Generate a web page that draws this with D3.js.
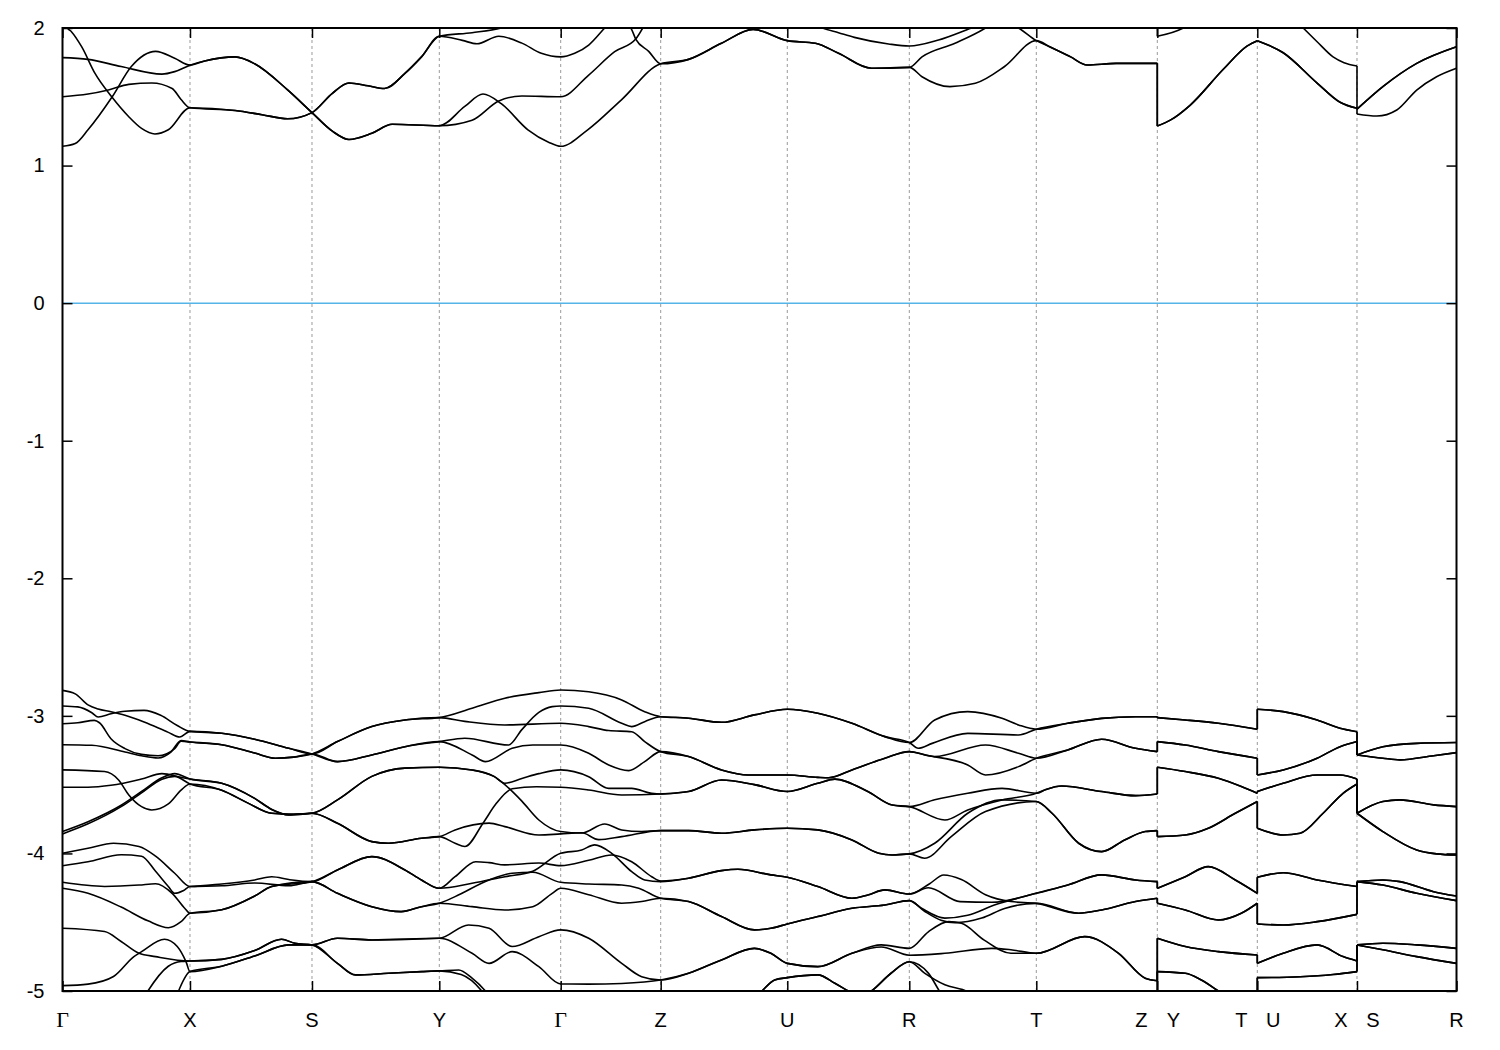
<!DOCTYPE html>
<html><head><meta charset="utf-8">
<script src="https://cdn.jsdelivr.net/npm/d3@7"></script>
<style>body{margin:0;background:#fff}</style>
</head><body>
<svg id="chart" width="1500" height="1050"></svg>
<script>
// k-path positions of high-symmetry points (path length, arbitrary units)
const kTicks = [0, 0.9146, 1.7898, 2.7030, 3.5739, 4.2912, 5.1994, 6.0746, 6.9857, 7.8537, 8.5710, 9.2862, 10.0];
const kLabels = ["Γ","X","S","Y","Γ","Z","U","R","T","Z|Y","T|U","X|S","R"];
const yTickValues = [2, 1, 0, -1, -2, -3, -4, -5];
const energyRange = [-5, 2];
const fermiLevel = 0;

// Bands: [s, E] with s = segment index + fraction along segment (E in eV)
const condA = [[0,1.14],[0.1,1.16],[0.2,1.26],[0.39,1.5],[0.54,1.72],[0.73,1.83],[0.88,1.78],[1,1.73],
[1.12,1.76],[1.37,1.79],[1.53,1.74],[1.8,1.55],[2,1.385],
[2.16,1.25],[2.29,1.19],[2.47,1.235],[2.63,1.3],[3,1.29],
[3.21,1.43],[3.36,1.52],[3.51,1.45],[3.73,1.26],[3.9,1.17],[4,1.14],
[4.27,1.26],[4.61,1.48],[5,1.74],
[5.22,1.772],[5.48,1.889],[5.73,1.99],[6,1.908],
[6.23,1.889],[6.42,1.816],[6.69,1.707],[7,1.714],
[7.1,1.646],[7.32,1.574],[7.52,1.598],[7.75,1.72],[8,1.908],
[8.11,1.864],[8.28,1.792],[8.42,1.731],[8.66,1.743],[9,1.743],
[9,1.288],[9.13,1.33],[9.33,1.44],[9.66,1.7],[9.9,1.87],[10,1.908],
[10,1.908],[10.26,1.82],[10.6,1.6],[10.83,1.46],[11,1.416],
[11,1.41],[11.26,1.574],[11.6,1.743],[12,1.864]];
const condB = [[0,1.5],[0.2,1.52],[0.36,1.55],[0.52,1.59],[0.7,1.6],[0.86,1.56],[0.93,1.48],[1,1.42],
[1.37,1.4],[1.59,1.37],[1.8,1.34],[2,1.385],
[2.16,1.525],[2.29,1.6],[2.44,1.58],[2.57,1.56],[2.73,1.67],[2.86,1.79],[3,1.94],
[3.19,1.91],[3.31,1.885],[3.49,1.94],[3.68,1.89],[3.84,1.816],[4,1.79],
[4.14,1.816],[4.28,1.876],[4.44,2.0],[4.7,2.2],[5,2.3],
[5.5,2.3],[6,2.15],
[6.29,2.0],[6.42,1.966],[6.55,1.932],[6.83,1.884],[7,1.869],
[7.23,1.913],[7.49,2.0],[7.68,2.06],[7.86,2.0],[8,1.908],
[8.11,1.864],[8.28,1.792],[8.42,1.731],[8.66,1.743],[9,1.743],
[9,1.288],[9.13,1.33],[9.33,1.44],[9.66,1.7],[9.9,1.87],[10,1.908],
[10,1.908],[10.26,1.82],[10.6,1.6],[10.83,1.46],[11,1.416],
[11,1.41],[11.26,1.574],[11.6,1.743],[12,1.864]];
const condC = [[0,2.1],[0.04,2.0],[0.07,1.973],[0.15,1.864],[0.255,1.67],[0.386,1.5],[0.52,1.355],[0.62,1.27],[0.725,1.23],[0.83,1.26],[1,1.42],
[1.37,1.4],[1.59,1.37],[1.8,1.34],[2,1.385],
[2.16,1.525],[2.29,1.6],[2.44,1.58],[2.57,1.56],[2.73,1.67],[2.86,1.79],[3,1.94],
[3.27,1.966],[3.51,2.0],[3.75,2.08],[4,2.1],
[4.4,2.12],[4.7,2.0],[4.75,1.92],[4.88,1.83],[5,1.74],
[5.22,1.772],[5.48,1.889],[5.73,1.99],[6,1.908],
[6.23,1.889],[6.42,1.816],[6.69,1.707],[7,1.714],
[7.1,1.79],[7.36,1.889],[7.6,2.0],[8,2.3],
[8.5,2.2],[9,2.1],
[9,1.94],[9.26,2.0],[9.6,2.2],[10,2.3],
[10,2.3],[10.46,2.0],[10.6,1.9],[10.76,1.79],[10.87,1.748],[11,1.724],
[11,1.375],[11.2,1.36],[11.4,1.404],[11.6,1.549],[11.8,1.646],[12,1.708]];
const condD = [[0,1.785],[0.2,1.772],[0.46,1.72],[0.78,1.665],[0.88,1.683],[1,1.73],
[1.12,1.76],[1.37,1.79],[1.53,1.74],[1.8,1.55],[2,1.385],
[2.16,1.25],[2.29,1.19],[2.47,1.235],[2.63,1.3],[3,1.29],
[3.27,1.33],[3.49,1.47],[3.68,1.506],[4,1.5],
[4.28,1.658],[4.54,1.828],[4.75,1.92],[4.82,2.0],[5,2.3],
[5.5,2.45],[6,2.4],[7,2.3],[8,2.4],[9,2.4],
[9,2.5],[10,2.5],[10,2.5],[11,2.3],[11,2.2],[12,2.1]];

const val1 = [[0,-2.815],[0.1,-2.84],[0.2,-2.92],[0.28,-2.95],[0.38,-2.97],[0.49,-2.996],[0.64,-3.045],[0.83,-3.12],[0.92,-3.154],[1,-3.113],
[1.26,-3.127],[1.53,-3.17],[1.81,-3.236],[2,-3.277],
[2.2,-3.187],[2.47,-3.078],[2.73,-3.03],[3,-3.013],
[3.27,-2.945],[3.54,-2.872],[3.82,-2.831],[4,-2.812],
[4.28,-2.825],[4.61,-2.884],[4.84,-2.97],[5,-3.006],
[5.22,-3.017],[5.48,-3.047],[5.74,-2.993],[6,-2.952],
[6.25,-2.981],[6.53,-3.054],[6.8,-3.151],[7,-3.194],
[7.2,-3.03],[7.46,-2.969],[7.73,-3.018],[7.86,-3.066],[8,-3.097],
[8.26,-3.054],[8.54,-3.018],[8.82,-3.006],[9,-3.006],
[9,-3.013],[9.28,-3.03],[9.61,-3.054],[10,-3.097],
[10,-2.952],[10.26,-2.969],[10.6,-3.03],[10.83,-3.09],[11,-3.115],
[11,-3.284],[11.26,-3.224],[11.6,-3.2],[12,-3.194]];
const val2 = [[0,-2.928],[0.12,-2.935],[0.23,-2.977],[0.28,-3.008],[0.38,-2.985],[0.49,-2.967],[0.64,-2.96],[0.77,-2.996],[0.9,-3.07],[1,-3.113],
[1.26,-3.127],[1.53,-3.17],[1.81,-3.236],[2,-3.277],
[2.2,-3.333],[2.47,-3.284],[2.73,-3.224],[3,-3.187],
[3.21,-3.163],[3.57,-3.212],[3.68,-3.1],[3.82,-2.975],[3.93,-2.933],[4,-2.928],
[4.28,-2.945],[4.61,-3.054],[4.71,-3.078],[4.84,-3.042],[5,-3.006],
[5.22,-3.017],[5.48,-3.047],[5.74,-2.993],[6,-2.952],
[6.25,-2.981],[6.53,-3.054],[6.8,-3.151],[7,-3.194],
[7.07,-3.236],[7.18,-3.2],[7.46,-3.127],[7.86,-3.139],[8,-3.097],
[8.26,-3.054],[8.54,-3.018],[8.82,-3.006],[9,-3.006],
[9,-3.013],[9.28,-3.03],[9.61,-3.054],[10,-3.097],
[10,-2.952],[10.26,-2.969],[10.6,-3.03],[10.83,-3.09],[11,-3.115],
[11,-3.284],[11.26,-3.224],[11.6,-3.2],[12,-3.194]];
const val3 = [[0,-3.057],[0.12,-3.05],[0.25,-3.033],[0.29,-3.05],[0.38,-3.166],[0.49,-3.238],[0.62,-3.28],[0.75,-3.29],[0.88,-3.238],[0.93,-3.185],[1,-3.19],
[1.26,-3.21],[1.53,-3.27],[1.7,-3.308],[1.85,-3.3],[2,-3.277],
[2.2,-3.187],[2.47,-3.078],[2.73,-3.03],[3,-3.013],
[3.21,-3.04],[3.54,-3.066],[4,-3.054],
[4.28,-3.078],[4.48,-3.107],[4.71,-3.115],[4.84,-3.187],[5,-3.26],
[5.22,-3.296],[5.48,-3.393],[5.69,-3.43],[6,-3.43],
[6.25,-3.447],[6.34,-3.45],[6.53,-3.393],[6.8,-3.308],[7,-3.26],
[7.12,-3.284],[7.46,-3.357],[7.6,-3.43],[7.86,-3.369],[8,-3.308],
[8.26,-3.248],[8.54,-3.17],[8.82,-3.236],[9,-3.26],
[9,-3.187],[9.28,-3.212],[9.61,-3.26],[10,-3.308],
[10,-3.43],[10.26,-3.393],[10.6,-3.308],[10.83,-3.224],[11,-3.187],
[11,-3.284],[11.26,-3.308],[11.43,-3.32],[11.77,-3.29],[12,-3.267]];
const val4 = [[0,-3.21],[0.23,-3.214],[0.49,-3.263],[0.62,-3.29],[0.75,-3.306],[0.85,-3.263],[0.93,-3.18],[1,-3.19],
[1.26,-3.21],[1.53,-3.27],[1.7,-3.308],[1.85,-3.3],[2,-3.277],
[2.2,-3.333],[2.47,-3.284],[2.73,-3.224],[3,-3.187],
[3.27,-3.284],[3.38,-3.333],[3.6,-3.236],[3.77,-3.212],[4,-3.212],
[4.28,-3.272],[4.48,-3.357],[4.68,-3.398],[4.84,-3.333],[5,-3.26],
[5.22,-3.296],[5.48,-3.393],[5.69,-3.43],[6,-3.43],
[6.25,-3.447],[6.34,-3.45],[6.53,-3.393],[6.8,-3.308],[7,-3.26],
[7.2,-3.296],[7.6,-3.212],[7.86,-3.272],[8,-3.308],
[8.26,-3.248],[8.54,-3.17],[8.82,-3.236],[9,-3.26],
[9,-3.187],[9.28,-3.212],[9.61,-3.26],[10,-3.308],
[10,-3.43],[10.26,-3.393],[10.6,-3.308],[10.83,-3.224],[11,-3.187],
[11,-3.284],[11.26,-3.308],[11.43,-3.32],[11.77,-3.29],[12,-3.267]];
const val5 = [[0,-3.393],[0.33,-3.405],[0.44,-3.466],[0.52,-3.575],[0.62,-3.66],[0.7,-3.684],[0.83,-3.64],[0.93,-3.54],[1,-3.495],
[1.26,-3.54],[1.48,-3.636],[1.67,-3.708],[1.85,-3.715],[2,-3.708],
[2.2,-3.611],[2.47,-3.44],[2.73,-3.38],[3,-3.374],
[3.27,-3.393],[3.45,-3.44],[3.54,-3.49],[3.68,-3.455],[3.82,-3.42],[4,-3.393],
[4.28,-3.442],[4.48,-3.527],[4.71,-3.527],[4.91,-3.563],[5,-3.568],
[5.22,-3.55],[5.48,-3.466],[5.74,-3.5],[6,-3.55],
[6.25,-3.49],[6.39,-3.46],[6.66,-3.55],[6.86,-3.648],[7,-3.66],
[7.2,-3.61],[7.46,-3.563],[7.73,-3.527],[8,-3.563],
[8.08,-3.535],[8.21,-3.51],[8.54,-3.55],[8.82,-3.58],[9,-3.568],
[9,-3.374],[9.28,-3.405],[9.61,-3.454],[9.84,-3.514],[10,-3.563],
[10,-3.55],[10.26,-3.49],[10.6,-3.43],[10.83,-3.43],[11,-3.459],
[11,-3.708],[11.26,-3.623],[11.43,-3.611],[11.77,-3.647],[12,-3.66]];
const val6 = [[0,-3.519],[0.2,-3.519],[0.38,-3.505],[0.62,-3.459],[0.78,-3.42],[0.93,-3.447],[1,-3.459],
[1.26,-3.49],[1.53,-3.6],[1.67,-3.68],[1.81,-3.72],[2,-3.708],
[2.2,-3.611],[2.47,-3.44],[2.73,-3.38],[3,-3.374],
[3.27,-3.393],[3.45,-3.44],[3.54,-3.5],[3.68,-3.62],[3.82,-3.757],[4,-3.841],
[4.21,-3.852],[4.44,-3.786],[4.61,-3.83],[4.81,-3.841],[5,-3.834],
[5.22,-3.834],[5.48,-3.853],[5.74,-3.829],[6,-3.817],
[6.25,-3.829],[6.53,-3.902],[6.75,-3.999],[6.86,-4.011],[7,-4.003],
[7.2,-3.926],[7.46,-3.708],[7.73,-3.611],[8,-3.623],
[8.13,-3.708],[8.35,-3.926],[8.54,-3.987],[8.73,-3.902],[8.9,-3.841],[9,-3.834],
[9,-3.878],[9.28,-3.866],[9.51,-3.817],[9.78,-3.708],[10,-3.623],
[10,-3.817],[10.26,-3.866],[10.43,-3.853],[10.66,-3.708],[10.86,-3.563],[11,-3.495],
[11,-3.708],[11.26,-3.841],[11.6,-3.975],[11.8,-4.003],[12,-4.011]];
const val7 = [[0,-3.841],[0.2,-3.77],[0.46,-3.65],[0.62,-3.55],[0.78,-3.45],[0.88,-3.42],[1,-3.459],
[1.26,-3.49],[1.53,-3.6],[1.67,-3.68],[1.81,-3.72],[2,-3.708],
[2.2,-3.781],[2.47,-3.914],[2.6,-3.926],[2.86,-3.89],[3,-3.878],
[3.13,-3.926],[3.21,-3.95],[3.36,-3.78],[3.47,-3.636],[3.6,-3.53],[3.8,-3.515],[4,-3.519],
[4.28,-3.539],[4.61,-3.575],[5,-3.568],
[5.22,-3.55],[5.48,-3.466],[5.74,-3.5],[6,-3.55],
[6.25,-3.49],[6.39,-3.46],[6.66,-3.55],[6.86,-3.648],[7,-3.66],
[7.28,-3.757],[7.46,-3.684],[7.73,-3.611],[8,-3.563],
[8.08,-3.535],[8.21,-3.51],[8.54,-3.55],[8.82,-3.58],[9,-3.568],
[9,-3.374],[9.28,-3.405],[9.61,-3.454],[9.84,-3.514],[10,-3.563],
[10,-3.55],[10.26,-3.49],[10.6,-3.43],[10.83,-3.43],[11,-3.459],
[11,-3.708],[11.26,-3.623],[11.43,-3.611],[11.77,-3.647],[12,-3.66]];
const val8 = [[0,-3.858],[0.2,-3.785],[0.46,-3.66],[0.62,-3.56],[0.78,-3.46],[0.88,-3.44],[1,-3.495],
[1.26,-3.54],[1.48,-3.636],[1.67,-3.708],[1.85,-3.715],[2,-3.708],
[2.2,-3.781],[2.47,-3.914],[2.6,-3.926],[2.86,-3.89],[3,-3.878],
[3.13,-3.829],[3.41,-3.78],[3.54,-3.805],[3.82,-3.866],[4,-3.858],
[4.21,-3.85],[4.38,-3.9],[4.61,-3.878],[5,-3.834],
[5.22,-3.834],[5.48,-3.853],[5.74,-3.829],[6,-3.817],
[6.25,-3.829],[6.53,-3.902],[6.75,-3.999],[6.86,-4.011],[7,-4.003],
[7.12,-4.035],[7.33,-3.878],[7.6,-3.696],[8,-3.623],
[8.13,-3.708],[8.35,-3.926],[8.54,-3.987],[8.73,-3.902],[8.9,-3.841],[9,-3.834],
[9,-3.878],[9.28,-3.866],[9.51,-3.817],[9.78,-3.708],[10,-3.623],
[10,-3.817],[10.26,-3.866],[10.43,-3.853],[10.66,-3.708],[10.86,-3.563],[11,-3.495],
[11,-3.708],[11.26,-3.841],[11.6,-3.975],[11.8,-4.003],[12,-4.011]];
const val9 = [[0,-3.999],[0.2,-3.963],[0.4,-3.926],[0.6,-3.95],[0.73,-4.02],[0.88,-4.144],[1,-4.24],
[1.26,-4.222],[1.53,-4.193],[1.67,-4.17],[1.81,-4.19],[2,-4.205],
[2.2,-4.12],[2.47,-4.023],[2.73,-4.12],[2.86,-4.193],[3,-4.253],
[3.27,-4.217],[3.54,-4.169],[3.77,-4.13],[4,-3.999],
[4.21,-3.975],[4.34,-3.938],[4.51,-3.999],[4.71,-4.132],[4.84,-4.193],[5,-4.205],
[5.22,-4.18],[5.48,-4.125],[5.61,-4.115],[5.87,-4.156],[6,-4.173],
[6.25,-4.241],[6.53,-4.326],[6.66,-4.302],[6.8,-4.265],[7,-4.295],
[7.16,-4.22],[7.27,-4.157],[7.41,-4.19],[7.6,-4.3],[7.8,-4.35],[8,-4.363],
[8.35,-4.435],[8.54,-4.411],[8.82,-4.35],[9,-4.326],
[9,-4.362],[9.28,-4.411],[9.61,-4.484],[9.84,-4.435],[10,-4.362],
[10,-4.513],[10.26,-4.52],[10.6,-4.496],[11,-4.443],
[11,-4.205],[11.26,-4.23],[11.6,-4.29],[12,-4.343]];
const val10 = [[0,-4.089],[0.2,-4.06],[0.46,-4.01],[0.62,-4.02],[0.73,-4.13],[0.83,-4.24],[0.88,-4.29],[0.95,-4.27],[1,-4.24],
[1.26,-4.235],[1.53,-4.215],[1.81,-4.235],[2,-4.205],
[2.2,-4.29],[2.47,-4.387],[2.7,-4.423],[2.86,-4.387],[3,-4.362],
[3.13,-4.314],[3.41,-4.193],[3.6,-4.144],[3.77,-4.137],[4,-4.21],
[4.28,-4.222],[4.61,-4.229],[4.78,-4.253],[5,-4.326],
[5.22,-4.35],[5.48,-4.459],[5.74,-4.556],[5.87,-4.544],[6,-4.513],
[6.25,-4.459],[6.53,-4.399],[6.8,-4.375],[7,-4.343],
[7.1,-4.4],[7.28,-4.47],[7.46,-4.45],[7.67,-4.375],[8,-4.29],
[8.26,-4.229],[8.54,-4.156],[8.82,-4.193],[9,-4.205],
[9,-4.253],[9.28,-4.169],[9.51,-4.096],[9.78,-4.193],[10,-4.29],
[10,-4.173],[10.26,-4.14],[10.6,-4.193],[11,-4.241],
[11,-4.205],[11.26,-4.193],[11.43,-4.205],[11.77,-4.278],[12,-4.31]];
const val11 = [[0,-4.21],[0.33,-4.24],[0.6,-4.23],[0.73,-4.22],[0.86,-4.29],[0.96,-4.4],[1,-4.435],
[1.26,-4.41],[1.53,-4.31],[1.67,-4.24],[2,-4.205],
[2.2,-4.12],[2.47,-4.023],[2.73,-4.12],[2.86,-4.193],[3,-4.253],
[3.13,-4.169],[3.3,-4.06],[3.41,-4.067],[3.54,-4.083],[3.82,-4.07],[4,-4.089],
[4.28,-4.05],[4.51,-4.011],[4.71,-4.06],[4.91,-4.169],[5,-4.2],
[5.22,-4.18],[5.48,-4.125],[5.61,-4.115],[5.87,-4.156],[6,-4.173],
[6.25,-4.241],[6.53,-4.326],[6.66,-4.302],[6.8,-4.265],[7,-4.295],
[7.15,-4.25],[7.4,-4.35],[7.65,-4.355],[8,-4.29],
[8.26,-4.229],[8.54,-4.156],[8.82,-4.193],[9,-4.205],
[9,-4.253],[9.28,-4.169],[9.51,-4.096],[9.78,-4.193],[10,-4.29],
[10,-4.173],[10.26,-4.14],[10.6,-4.193],[11,-4.241],
[11,-4.205],[11.26,-4.193],[11.43,-4.205],[11.77,-4.278],[12,-4.31]];
const val12 = [[0,-4.253],[0.2,-4.29],[0.46,-4.39],[0.67,-4.49],[0.83,-4.54],[0.93,-4.496],[1,-4.435],
[1.26,-4.41],[1.53,-4.31],[1.67,-4.24],[2,-4.205],
[2.2,-4.29],[2.47,-4.387],[2.7,-4.423],[2.86,-4.387],[3,-4.362],
[3.27,-4.387],[3.54,-4.411],[3.77,-4.387],[3.93,-4.29],[4,-4.253],
[4.28,-4.3],[4.61,-4.362],[4.81,-4.35],[5,-4.326],
[5.22,-4.35],[5.48,-4.459],[5.74,-4.556],[5.87,-4.544],[6,-4.513],
[6.25,-4.459],[6.53,-4.399],[6.8,-4.375],[7,-4.343],
[7.12,-4.42],[7.25,-4.485],[7.36,-4.503],[7.57,-4.47],[7.75,-4.4],[8,-4.363],
[8.35,-4.435],[8.54,-4.411],[8.82,-4.35],[9,-4.326],
[9,-4.362],[9.28,-4.411],[9.61,-4.484],[9.84,-4.435],[10,-4.362],
[10,-4.513],[10.26,-4.52],[10.6,-4.496],[11,-4.443],
[11,-4.205],[11.26,-4.23],[11.6,-4.29],[12,-4.343]];
const val13 = [[0,-4.544],[0.33,-4.568],[0.46,-4.64],[0.6,-4.726],[0.73,-4.75],[1,-4.782],
[1.26,-4.77],[1.53,-4.706],[1.75,-4.624],[1.86,-4.653],[2,-4.665],
[2.2,-4.617],[2.47,-4.629],[3,-4.617],
[3.24,-4.52],[3.41,-4.544],[3.6,-4.677],[3.82,-4.605],[4,-4.556],
[4.28,-4.617],[4.61,-4.799],[4.81,-4.896],[5,-4.92],
[5.22,-4.871],[5.48,-4.774],[5.74,-4.69],[5.87,-4.726],[6,-4.799],
[6.25,-4.823],[6.53,-4.726],[6.77,-4.665],[7,-4.69],
[7.15,-4.57],[7.31,-4.496],[7.41,-4.508],[7.59,-4.63],[7.8,-4.726],[8,-4.726],
[8.4,-4.605],[8.68,-4.726],[8.9,-4.907],[9,-4.925],
[9,-4.617],[9.28,-4.677],[9.61,-4.714],[10,-4.738],
[10,-4.799],[10.26,-4.726],[10.6,-4.665],[10.86,-4.75],[11,-4.782],
[11,-4.665],[11.26,-4.653],[11.6,-4.665],[12,-4.69]];
const val14 = [[0,-4.961],[0.2,-4.95],[0.4,-4.895],[0.56,-4.75],[0.62,-4.714],[0.8,-4.624],[0.9,-4.677],[0.97,-4.79],[1,-4.859],
[1.26,-4.82],[1.53,-4.745],[1.81,-4.665],[2,-4.665],
[2.2,-4.617],[2.47,-4.629],[3,-4.617],
[3.27,-4.726],[3.41,-4.799],[3.6,-4.714],[3.82,-4.823],[4,-4.949],
[4.28,-4.95],[4.61,-4.945],[5,-4.92],
[5.22,-4.871],[5.48,-4.774],[5.74,-4.69],[5.87,-4.726],[6,-4.799],
[6.25,-4.823],[6.53,-4.726],[6.77,-4.68],[7,-4.74],
[7.28,-4.726],[7.65,-4.69],[7.8,-4.7],[8,-4.726],
[8.4,-4.605],[8.68,-4.726],[8.9,-4.907],[9,-4.925],
[9,-4.617],[9.28,-4.677],[9.61,-4.714],[10,-4.738],
[10,-4.799],[10.26,-4.726],[10.6,-4.665],[10.86,-4.75],[11,-4.782],
[11,-4.665],[11.26,-4.653],[11.6,-4.665],[12,-4.69]];
const val15 = [[0,-5.5],[0.5,-5.3],[0.67,-5.0],[0.83,-4.82],[0.93,-4.785],[1,-4.782],
[1.26,-4.77],[1.53,-4.706],[1.75,-4.624],[1.86,-4.653],[2,-4.665],
[2.2,-4.799],[2.34,-4.883],[2.6,-4.871],[2.86,-4.859],[3,-4.854],
[3.16,-4.847],[3.27,-4.907],[3.38,-5.0],[3.6,-5.3],[4,-5.5],
[4.5,-5.4],[5,-5.3],
[5.5,-5.3],[5.8,-5.0],[5.9,-4.92],[6,-4.903],
[6.25,-4.883],[6.39,-4.944],[6.5,-5.0],[6.6,-5.05],[6.69,-5.0],[6.85,-4.871],[7,-4.787],
[7.15,-4.87],[7.24,-5.005],[7.5,-5.3],[8,-5.4],
[8.5,-5.35],[9,-5.3],
[9,-4.859],[9.28,-4.871],[9.44,-4.92],[9.61,-5.0],[10,-5.2],
[10,-4.903],[10.43,-4.896],[10.76,-4.88],[11,-4.859],
[11,-4.665],[11.26,-4.7],[11.6,-4.75],[12,-4.799]];
const val16 = [[0,-5.7],[0.8,-5.3],[0.91,-5.0],[1,-4.859],
[1.26,-4.82],[1.53,-4.745],[1.81,-4.665],[2,-4.665],
[2.2,-4.799],[2.34,-4.883],[2.6,-4.871],[2.86,-4.859],[3,-4.854],
[3.18,-4.88],[3.35,-5.0],[3.6,-5.4],[4,-5.7],
[4.5,-5.55],[5,-5.4],
[5.5,-5.35],[5.8,-5.0],[5.9,-4.92],[6,-4.903],
[6.25,-4.883],[6.39,-4.944],[6.5,-5.0],[6.6,-5.05],[6.69,-5.0],[6.85,-4.871],[7,-4.787],
[7.12,-4.87],[7.28,-4.955],[7.46,-5.005],[7.7,-5.2],[8,-5.3],
[8.5,-5.3],[9,-5.3],
[9,-4.859],[9.28,-4.871],[9.44,-4.92],[9.61,-5.0],[10,-5.2],
[10,-4.903],[10.43,-4.896],[10.76,-4.88],[11,-4.859],
[11,-4.665],[11.26,-4.7],[11.6,-4.75],[12,-4.799]];

const bands = [condA, condB, condC, condD, val1, val2, val3, val4, val5, val6, val7, val8,
  val9, val10, val11, val12, val13, val14, val15, val16];

// ---- drawing ----
const W = 1500, H = 1050;
const plot = {left: 62.5, right: 1456.5, top: 28, bottom: 991};
const svg = d3.select("#chart");
const x = d3.scaleLinear().domain([kTicks[0], kTicks[kTicks.length - 1]]).range([plot.left, plot.right]);
const y = d3.scaleLinear().domain(energyRange).range([plot.bottom, plot.top]);

function kOf(s) {
  const i = Math.min(Math.floor(s), kTicks.length - 2);
  const f = s - i;
  return kTicks[i] + f * (kTicks[i + 1] - kTicks[i]);
}

svg.append("defs").append("clipPath").attr("id", "clip")
  .append("rect").attr("x", plot.left).attr("y", plot.top)
  .attr("width", plot.right - plot.left).attr("height", plot.bottom - plot.top);

// dashed verticals at interior high-symmetry points
svg.append("g").selectAll("line").data(kTicks.slice(1, -1)).join("line")
  .attr("x1", d => x(d)).attr("x2", d => x(d))
  .attr("y1", plot.top).attr("y2", plot.bottom)
  .attr("stroke", "#9a9a9a").attr("stroke-width", 1).attr("stroke-dasharray", "3,3");

// Fermi level
svg.append("line").attr("x1", plot.left).attr("x2", plot.right)
  .attr("y1", y(fermiLevel)).attr("y2", y(fermiLevel))
  .attr("stroke", "#56b4e9").attr("stroke-width", 1.5);

const gBands = svg.append("g").attr("clip-path", "url(#clip)");
const lineGen = d3.line().x(d => x(kOf(d[0]))).y(d => y(d[1])).curve(d3.curveMonotoneX);
const straight = d3.line().x(d => x(kOf(d[0]))).y(d => y(d[1]));
bands.forEach(b => {
  const runs = [];
  let cur = [b[0]];
  for (let i = 1; i < b.length; i++) {
    if (b[i][0] === b[i - 1][0]) { runs.push(cur); cur = [b[i]]; }
    else cur.push(b[i]);
  }
  runs.push(cur);
  runs.forEach(r => {
    gBands.append("path").attr("d", lineGen(r)).attr("fill", "none")
      .attr("stroke", "#000").attr("stroke-width", 1.6).attr("stroke-linejoin", "round");
  });
  for (let i = 1; i < runs.length; i++) {
    const a = runs[i - 1][runs[i - 1].length - 1], c = runs[i][0];
    gBands.append("path").attr("d", straight([a, c])).attr("fill", "none")
      .attr("stroke", "#000").attr("stroke-width", 1.6);
  }
});

// axes (ticks inward)
const font = "'Liberation Sans', Arial, sans-serif";
const axL = svg.append("g").attr("transform", `translate(${plot.left},0)`)
  .call(d3.axisLeft(y).tickValues(yTickValues).tickSize(-10).tickPadding(18).tickFormat(d3.format("d")));
const axR = svg.append("g").attr("transform", `translate(${plot.right},0)`)
  .call(d3.axisRight(y).tickValues(yTickValues).tickSize(-10).tickFormat(""));
const axB = svg.append("g").attr("transform", `translate(0,${plot.bottom})`)
  .call(d3.axisBottom(x).tickValues(kTicks).tickSize(-10).tickFormat(""));
const axT = svg.append("g").attr("transform", `translate(0,${plot.top})`)
  .call(d3.axisTop(x).tickValues(kTicks).tickSize(-10).tickFormat(""));
[axL, axR, axB, axT].forEach(g => {
  g.select(".domain").remove();
  g.selectAll(".tick line").attr("stroke", "#000").attr("stroke-width", 1.5);
});
axL.selectAll("text").attr("font-family", font).attr("font-size", 20).attr("fill", "#000")
  .text(d => d3.format("d")(d).replace("−", "-"));

// frame
svg.append("rect").attr("x", plot.left).attr("y", plot.top)
  .attr("width", plot.right - plot.left).attr("height", plot.bottom - plot.top)
  .attr("fill", "none").attr("stroke", "#000").attr("stroke-width", 2);

// k-point labels
const labelY = 1027;
const gLab = svg.append("g");
kLabels.forEach((lab, i) => {
  const parts = lab.split("|");
  const offs = parts.length === 2 ? [-16, 16] : [0];
  parts.forEach((p, j) => {
    const isGamma = p === "Γ";
    gLab.append("text").attr("x", x(kTicks[i]) + offs[j]).attr("y", labelY)
      .attr("text-anchor", "middle")
      .attr("font-family", isGamma ? "'Liberation Serif', 'DejaVu Serif', serif" : font)
      .attr("font-size", isGamma ? 22 : 20).attr("fill", "#000").text(p);
  });
});
</script>
</body></html>
